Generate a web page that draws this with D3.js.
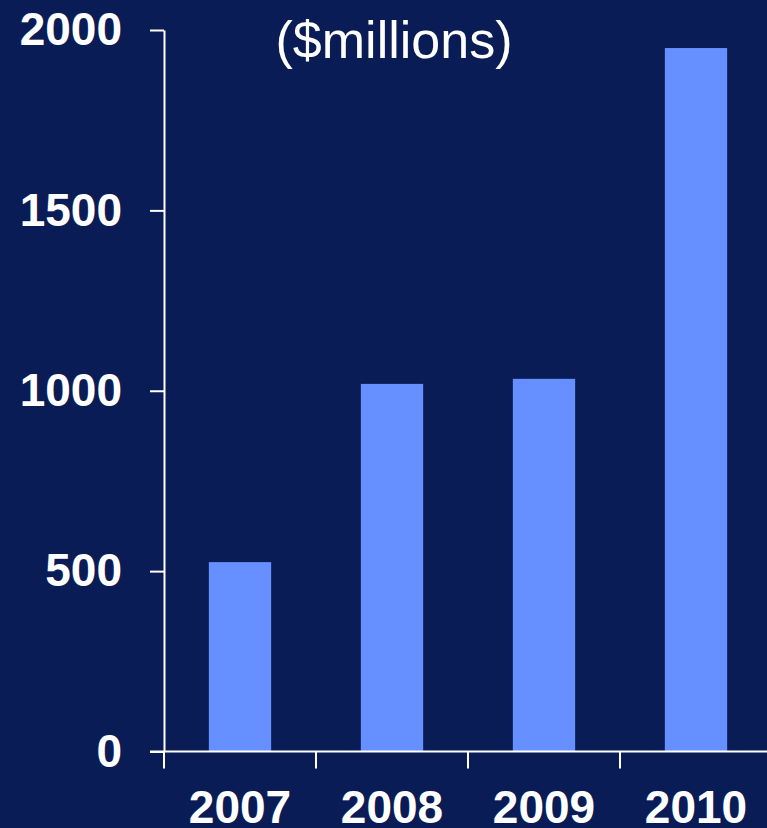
<!DOCTYPE html>
<html>
<head>
<meta charset="utf-8">
<script src="https://cdn.jsdelivr.net/npm/d3@7"></script>
<style>
	html, body { margin: 0; padding: 0; background: #0a1c55; }
	svg { display: block; }
</style>
</head>
<body>
<svg></svg>
<script>
const years = ['2007', '2008', '2009', '2010'];
const revenue = [525, 1019, 1033, 1950];
const yTicks = [0, 500, 1000, 1500, 2000];
const title = '($millions)';

const width = 767;
const height = 828;
const svg = d3.select('svg').attr('width', width).attr('height', height);

svg.append('rect').attr('width', width).attr('height', height).attr('fill', '#0a1c55');

const x = d3
	.scaleBand()
	.domain(years)
	.range([164, 772])
	.paddingInner(0.59)
	.paddingOuter(0.295);

const y = d3.scaleLinear().domain([0, 2000]).range([751.5, 30]);

// bars
svg
	.append('g')
	.selectAll('rect')
	.data(years)
	.enter()
	.append('rect')
	.attr('x', (d) => x(d))
	.attr('width', x.bandwidth())
	.attr('y', (d, i) => y(revenue[i]))
	.attr('height', (d, i) => y(0) - y(revenue[i]))
	.attr('fill', '#6690ff');

// y axis
const yAxis = svg
	.append('g')
	.attr('transform', 'translate(164,0)')
	.call(
		d3
			.axisLeft(y)
			.tickValues(yTicks)
			.tickFormat(d3.format('d'))
			.tickSize(14)
			.tickSizeOuter(0)
			.tickPadding(28)
	);

yAxis.select('.domain').attr('stroke', '#fff').attr('stroke-width', 2);
yAxis.selectAll('.tick line').attr('stroke', '#fff').attr('stroke-width', 2);
yAxis
	.selectAll('.tick text')
	.attr('fill', '#fff')
	.style('font', 'bold 46px "Liberation Sans", Arial, sans-serif');

// x axis line with ticks at the band edges
const step = x.step();
const edges = years.map((d) => x(d) - (step * x.paddingInner()) / 2);

svg
	.append('line')
	.attr('x1', 150)
	.attr('x2', width)
	.attr('y1', y(0))
	.attr('y2', y(0))
	.attr('stroke', '#fff')
	.attr('stroke-width', 2);

svg
	.append('g')
	.selectAll('line')
	.data(edges)
	.enter()
	.append('line')
	.attr('x1', (d) => d)
	.attr('x2', (d) => d)
	.attr('y1', y(0))
	.attr('y2', y(0) + 17)
	.attr('stroke', '#fff')
	.attr('stroke-width', 2);

svg
	.append('g')
	.selectAll('text')
	.data(years)
	.enter()
	.append('text')
	.attr('x', (d) => x(d) + x.bandwidth() / 2)
	.attr('y', 823)
	.attr('text-anchor', 'middle')
	.attr('fill', '#fff')
	.style('font', 'bold 46px "Liberation Sans", Arial, sans-serif')
	.text((d) => d);

svg
	.append('text')
	.attr('x', 394)
	.attr('y', 58)
	.attr('text-anchor', 'middle')
	.attr('fill', '#fff')
	.style('font', '52px "Liberation Sans", Arial, sans-serif')
	.text(title);
</script>
</body>
</html>
